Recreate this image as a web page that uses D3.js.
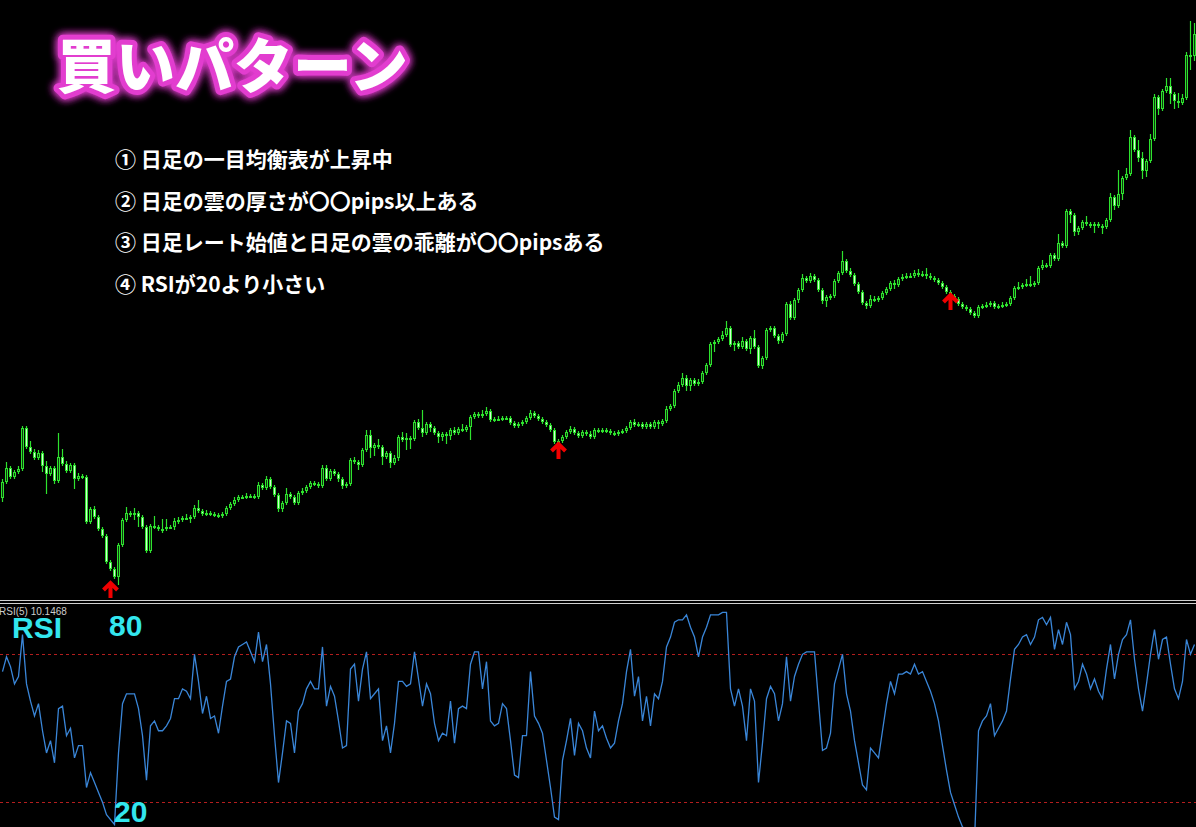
<!DOCTYPE html>
<html>
<head>
<meta charset="utf-8">
<script src="https://cdn.jsdelivr.net/npm/d3@7"></script>
<style>
  html, body { margin: 0; padding: 0; background: #000; }
  svg { display: block; }
</style>
</head>
<body>
<svg width="1196" height="827"></svg>
<script>
// price data (one candle per bar, open = previous close)
var firstOpen = 102;
var closes = [
  118,132,123,128,131,172,153,148,142,147,134,126,132,119,143,136,129,135,121,124,
  123,78,91,83,71,64,38,31,23,55,80,87,85,87,83,73,49,74,73,71,
  71,73,73,79,80,82,82,83,92,89,86,87,86,85,84,86,92,96,100,103,
  103,104,104,103,115,112,121,113,105,91,97,106,103,97,107,109,113,117,116,114,
  132,121,129,126,121,114,116,140,138,135,150,165,152,155,153,143,147,137,142,163,
  160,162,161,178,172,167,176,172,167,163,166,164,170,167,171,170,173,183,186,184,
  186,189,180,181,181,182,182,177,174,176,178,182,187,184,181,178,175,170,158,159,
  163,168,171,167,164,168,166,163,170,169,170,169,167,166,168,169,172,178,175,176,
  173,176,173,178,176,179,191,194,209,215,222,214,220,216,218,227,235,256,258,261,
  265,272,255,257,253,259,251,262,253,234,242,270,272,264,259,266,296,282,300,310,
  322,319,324,320,310,299,303,304,319,327,339,329,325,316,308,297,294,301,300,302,
  307,311,317,315,321,323,324,324,327,325,326,324,322,320,317,313,308,304,301,296,
  293,291,287,284,293,294,295,297,293,294,295,296,302,312,313,315,316,315,317,332,
  335,334,345,341,357,354,389,385,368,372,378,376,374,376,374,373,380,403,394,406,
  422,426,463,450,442,429,439,461,503,491,509,514,506,499,497,502,545,544,566
];
var wickHi = [
  3,6,2,2,3,2,2,6,3,3, 2,5,2,2,24,8,3,2,2,3, 2,2,2,3,2,2,2,2,2,2, 2,6,2,5,2,2,2,2,10,2,
  10,8,2,3,3,2,4,2,3,8, 2,3,2,2,2,2,2,2,3,2, 2,3,2,2,3,2,3,2,2,2, 2,6,2,2,2,3,2,2,2,2,
  3,3,2,2,2,2,2,2,3,2, 2,5,5,2,6,2,2,2,3,2, 5,5,2,2,3,18,2,2,2,2, 2,2,2,3,2,5,2,2,2,2,
  4,4,2,2,3,2,2,2,2,2, 2,2,3,2,2,2,2,2,2,2, 2,2,3,2,2,2,2,3,2,2, 2,2,2,2,2,2,2,2,3,2,
  2,2,2,2,2,2,3,2,2,3, 5,3,2,2,3,2,2,2,2,2, 4,7,2,2,2,4,2,2,8,2, 2,2,2,2,2,2,2,3,2,2,
  4,2,3,2,2,2,2,2,2,2, 10,2,3,2,2,2,2,4,3,2, 2,2,2,3,2,3,3,3,3,4, 3,6,3,2,2,2,2,2,2,2,
  2,2,2,2,2,2,3,2,2,2, 3,2,2,2,5,2,5,8,2,2, 5,2,2,2,9,2,2,2,2,2, 2,6,2,2,2,2,2,4,2,24,
  2,6,7,2,10,6,2,5,3,2, 2,8,8,2,8,4,3,34,11
];
var wickLo = [
  4,2,2,2,2,2,2,2,2,2, 6,20,2,3,2,2,2,2,10,2, 2,2,2,2,2,2,2,2,2,8, 2,2,2,5,10,2,2,2,2,2,
  4,2,2,3,3,2,2,5,2,2, 2,2,2,2,2,2,2,2,2,2, 2,2,2,2,2,2,2,2,2,3, 3,2,2,2,2,2,2,2,2,2,
  2,2,2,2,3,3,2,2,2,5, 2,2,10,8,2,8,2,5,2,3, 2,10,10,2,2,4,2,4,2,6, 4,8,4,2,2,2,2,13,2,2,
  2,2,2,2,2,2,2,2,2,2, 2,2,2,2,2,2,2,2,2,2, 2,2,2,2,2,2,2,2,2,2, 2,2,2,2,2,2,2,2,2,2,
  2,2,2,2,5,2,2,2,2,2, 2,5,5,2,2,2,2,2,8,2, 2,2,2,6,2,2,2,5,2,2, 3,2,2,2,3,2,2,2,2,3,
  2,2,2,2,2,3,6,3,2,2, 2,2,2,2,2,2,3,2,2,2, 2,2,2,4,2,2,2,2,2,2, 2,3,2,2,2,2,2,2,2,2,
  2,2,2,2,2,2,2,2,2,2, 2,2,2,2,2,2,2,2,2,2, 2,2,2,2,2,2,2,8,4,3, 2,2,2,7,2,7,2,2,4,2,
  6,2,2,2,4,8,6,2,2,6, 2,2,10,8,5,2,2,14,5
];
var rsi = [
  73,79,75,68,71,88,68,61,55,60,49,40,45,36,58,59,47,50,38,43,
  43,26,32,28,24,20,15,13,11,40,60,64,64,64,58,47,29,51,53,49,
  49,51,54,62,62,66,65,62,80,69,56,63,54,55,48,59,69,70,79,83,
  84,85,81,77,89,77,84,68,47,28,40,53,52,40,57,60,66,69,66,66,
  83,59,67,63,53,42,43,74,76,61,74,81,62,64,66,45,51,40,52,69,
  69,67,68,81,70,59,68,64,52,45,48,47,61,44,58,59,58,76,81,81,
  66,77,53,51,52,60,58,45,31,30,47,47,73,55,52,48,37,26,14,13,
  37,45,54,39,52,49,42,38,57,49,51,46,42,44,53,60,73,82,63,71,
  53,63,51,64,62,69,83,87,93,94,94,96,91,87,79,87,91,96,96,96,
  97,97,66,59,66,59,45,66,61,28,44,62,67,64,53,60,79,61,71,76,
  80,81,81,81,61,41,42,48,68,74,80,64,57,45,36,27,25,42,40,38,
  49,60,69,64,72,72,73,72,76,72,73,69,65,60,53,43,33,24,19,14,
  10,9,6,4,49,53,55,60,47,50,53,57,70,82,84,87,88,84,87,94,
  95,92,95,82,90,84,93,88,66,69,76,72,66,70,65,62,74,84,70,80,
  86,88,94,78,66,57,68,80,90,78,86,87,76,66,62,69,86,80,84
];
var rsiLevels = [80, 20];
var signalIndex = [27, 139, 237];
var signalPrice = [20, 159, 308];
var title = "買いパターン";
var conditions = [
  "① 日足の一目均衡表が上昇中",
  "② 日足の雲の厚さが〇〇pips以上ある",
  "③ 日足レート始値と日足の雲の乖離が〇〇pipsある",
  "④ RSIが20より小さい"
];
var rsiLabel = "RSI(5) 10.1468";

var svg = d3.select('svg');
var svgWidth = +svg.attr('width');
var svgHeight = +svg.attr('height');
var mainHeight = 600;

var green = "#2ee22e";
var bullFill = "#0e3a0e";
var bearFill = "#d2ffd2";

var xScale = d3.scaleLinear()
  .domain([0, closes.length - 1])
  .range([2.5, 2.5 + 4 * (closes.length - 1)]);

var yPrice = d3.scaleLinear()
  .domain([0, 600])
  .range([mainHeight, 0]);

var yRsi = d3.scaleLinear()
  .domain([0, 100])
  .range([851.6, 605]);

svg.append('rect')
  .attr('width', svgWidth)
  .attr('height', svgHeight)
  .attr('fill', '#000');

var defs = svg.append('defs');
defs.append('clipPath').attr('id', 'mainClip')
  .append('rect').attr('x', 0).attr('y', 0).attr('width', svgWidth).attr('height', mainHeight);
defs.append('clipPath').attr('id', 'rsiClip')
  .append('rect').attr('x', 0).attr('y', 605).attr('width', svgWidth).attr('height', svgHeight - 605);

var glow = defs.append('filter').attr('id', 'glow')
  .attr('x', '-20%').attr('y', '-60%').attr('width', '140%').attr('height', '220%');
glow.append('feGaussianBlur').attr('in', 'SourceGraphic').attr('stdDeviation', 4).attr('result', 'b');
var merge = glow.append('feMerge');
merge.append('feMergeNode').attr('in', 'b');
merge.append('feMergeNode').attr('in', 'b');
merge.append('feMergeNode').attr('in', 'SourceGraphic');

var candles = closes.map(function(c, i) {
  var o = i ? closes[i - 1] : firstOpen;
  return {i: i, o: o, c: c, h: Math.max(o, c) + wickHi[i], l: Math.min(o, c) - wickLo[i]};
});

var chart = svg.append('g').attr('clip-path', 'url(#mainClip)');

chart.selectAll('.wick')
  .data(candles)
  .enter()
  .append('line')
  .attr('class', 'wick')
  .attr('x1', d => xScale(d.i))
  .attr('x2', d => xScale(d.i))
  .attr('y1', d => yPrice(d.h))
  .attr('y2', d => yPrice(d.l))
  .attr('stroke', green)
  .attr('stroke-width', 1.2);

function bodyTop(d) { return yPrice(Math.max(d.o, d.c)); }
function bodyH(d) { return Math.max(2, Math.abs(yPrice(d.o) - yPrice(d.c))); }

chart.selectAll('.body')
  .data(candles)
  .enter()
  .append('rect')
  .attr('class', 'body')
  .attr('x', d => xScale(d.i) - 1.5)
  .attr('y', bodyTop)
  .attr('width', 3)
  .attr('height', bodyH)
  .attr('fill', green);

chart.selectAll('.inner')
  .data(candles.filter(d => bodyH(d) > 2))
  .enter()
  .append('rect')
  .attr('class', 'inner')
  .attr('x', d => xScale(d.i) - 0.5)
  .attr('y', d => bodyTop(d) + 1)
  .attr('width', 1)
  .attr('height', d => bodyH(d) - 2)
  .attr('fill', d => d.c > d.o ? bullFill : bearFill);

// buy signal arrows
chart.selectAll('.arrow')
  .data(signalIndex)
  .enter()
  .append('path')
  .attr('class', 'arrow')
  .attr('transform', (d, k) => 'translate(' + xScale(d) + ',' + yPrice(signalPrice[k]) + ')')
  .attr('d', 'M-7,10 L0,3 L7,10 M0,3 V18')
  .attr('fill', 'none')
  .attr('stroke', '#f00000')
  .attr('stroke-width', 4);

// separator between panes
[600.5, 603.5].forEach(function(y) {
  svg.append('line')
    .attr('x1', 0).attr('x2', svgWidth)
    .attr('y1', y).attr('y2', y)
    .attr('stroke', '#cfcfcf')
    .attr('stroke-width', 1);
});

// RSI pane
var rsiPane = svg.append('g').attr('clip-path', 'url(#rsiClip)');

rsiPane.selectAll('.level')
  .data(rsiLevels)
  .enter()
  .append('line')
  .attr('class', 'level')
  .attr('x1', 0).attr('x2', svgWidth)
  .attr('y1', d => Math.round(yRsi(d)) + 0.5)
  .attr('y2', d => Math.round(yRsi(d)) + 0.5)
  .attr('stroke', '#b41e1e')
  .attr('stroke-dasharray', '3,3')
  .attr('stroke-width', 1);

rsiPane.append('path')
  .datum(rsi)
  .attr('fill', 'none')
  .attr('stroke', '#3a86d8')
  .attr('stroke-width', 1.3)
  .attr('d', d3.line()
    .x(function(d, i) { return xScale(i); })
    .y(function(d) { return yRsi(d); })
  );

svg.append('text')
  .attr('x', -1)
  .attr('y', 615)
  .attr('fill', '#cccccc')
  .attr('font-family', 'Liberation Sans, Arial, sans-serif')
  .attr('font-size', 10)
  .text(rsiLabel);

var cyan = '#33e6ee';
var bigFont = 'Liberation Sans, Arial, sans-serif';
svg.append('text')
  .attr('x', 12).attr('y', 638)
  .attr('fill', cyan)
  .attr('font-family', bigFont).attr('font-weight', 'bold').attr('font-size', 30)
  .text('RSI');

svg.selectAll('.lvlLabel')
  .data(rsiLevels)
  .enter()
  .append('text')
  .attr('class', 'lvlLabel')
  .attr('x', (d, k) => k ? 114 : 109)
  .attr('y', (d, k) => k ? 822 : 636)
  .attr('fill', cyan)
  .attr('font-family', bigFont).attr('font-weight', 'bold').attr('font-size', 30)
  .text(d => d);

// title with pink glow
var jp = '"Noto Sans CJK JP", "Noto Sans", sans-serif';
svg.append('text')
  .attr('x', 57).attr('y', 88)
  .attr('font-family', jp).attr('font-weight', 900).attr('font-size', 59)
  .attr('fill', '#e23ccf')
  .attr('stroke', '#e23ccf')
  .attr('stroke-width', 10)
  .attr('stroke-linejoin', 'round')
  .attr('filter', 'url(#glow)')
  .text(title);

svg.append('text')
  .attr('x', 57).attr('y', 88)
  .attr('font-family', jp).attr('font-weight', 900).attr('font-size', 59)
  .attr('fill', '#ffffff')
  .text(title);

svg.selectAll('.cond')
  .data(conditions)
  .enter()
  .append('text')
  .attr('class', 'cond')
  .attr('x', 115)
  .attr('y', (d, k) => 167 + k * 41.7)
  .attr('font-family', jp).attr('font-weight', 'bold').attr('font-size', 21)
  .attr('fill', '#ffffff')
  .text(d => d);
</script>
</body>
</html>
